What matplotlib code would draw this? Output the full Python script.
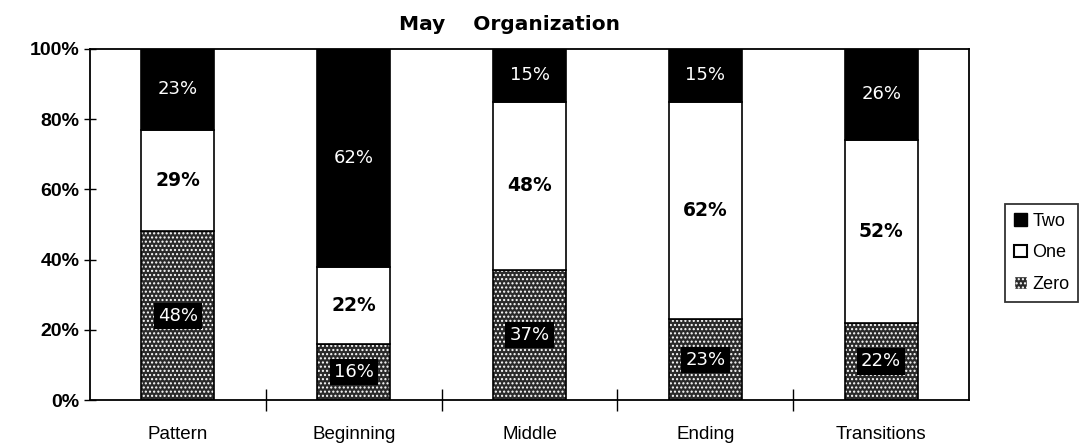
#!/usr/bin/env python3

import numpy as np
import matplotlib
matplotlib.use("Agg")
import matplotlib.pyplot as plt
from matplotlib.patches import Patch

plt.rcParams["font.family"] = ["Liberation Sans", "DejaVu Sans"]

categories = ["Pattern", "Beginning", "Middle", "Ending", "Transitions"]
zero = [48, 16, 37, 23, 22]
one = [29, 22, 48, 62, 52]
two = [23, 62, 15, 15, 26]
yticks = [0, 20, 40, 60, 80, 100]

fig = plt.figure(figsize=(10.82, 4.48), dpi=100)
ax = fig.add_axes([0.0832, 0.107, 0.8124, 0.784])

x = np.arange(len(categories))
w = 0.415
zero = np.array(zero)
one = np.array(one)
two = np.array(two)

# zero: dark fill with white dots, then black outline on top
ax.bar(x, zero, w, color="#2a2a2a", edgecolor="white", hatch="....", linewidth=0)
ax.bar(x, zero, w, fill=False, edgecolor="black", linewidth=1.2)
ax.bar(x, one, w, bottom=zero, color="white", edgecolor="black", linewidth=1.2)
ax.bar(x, two, w, bottom=zero + one, color="black", edgecolor="black", linewidth=1.2)

wide = ["DejaVu Sans"]
for i in range(len(categories)):
    ax.text(x[i], zero[i] / 2, f"{zero[i]}%", ha="center", va="center",
            color="white", fontsize=13, family=wide,
            bbox=dict(facecolor="black", edgecolor="none", pad=3))
    ax.text(x[i], zero[i] + one[i] / 2, f"{one[i]}%", ha="center", va="center",
            color="black", fontsize=13.5, fontweight="bold", family=wide)
    ax.text(x[i], zero[i] + one[i] + two[i] / 2, f"{two[i]}%", ha="center",
            va="center", color="white", fontsize=13, family=wide)

ax.set_xlim(-0.5, len(categories) - 0.5)
ax.set_ylim(0, 100)
ax.set_yticks(yticks)
ax.set_yticklabels([f"{t}%" for t in yticks], fontsize=14, fontweight="bold")
ax.tick_params(axis="y", direction="inout", length=9, width=1, pad=3)

ax.set_xticks(x)
ax.set_xticklabels(categories, fontsize=13.5)
ax.tick_params(axis="x", which="major", length=0, pad=19)
ax.set_xticks(x[:-1] + 0.5, minor=True)
ax.tick_params(axis="x", which="minor", direction="inout", length=16, width=1)

for s in ax.spines.values():
    s.set_linewidth(1.3)

fig.text(0.471, 0.945, "May    Organization", ha="center", va="center",
         fontsize=14.5, fontweight="bold", family=wide)

handles = [
    Patch(facecolor="black", edgecolor="black", label="Two"),
    Patch(facecolor="white", edgecolor="black", linewidth=1.5, label="One"),
    Patch(facecolor="#2a2a2a", edgecolor="white", hatch="....", label="Zero"),
]
leg = fig.legend(handles=handles, loc="upper left", bbox_to_anchor=(0.929, 0.545),
                 fontsize=13, frameon=True, fancybox=False, handlelength=0.7,
                 handleheight=0.7, handletextpad=0.3, borderpad=0.5,
                 labelspacing=0.8, borderaxespad=0)
leg.get_frame().set_edgecolor("black")
leg.get_frame().set_linewidth(1.3)

plt.savefig("out.png", dpi=100)
plt.close(fig)
